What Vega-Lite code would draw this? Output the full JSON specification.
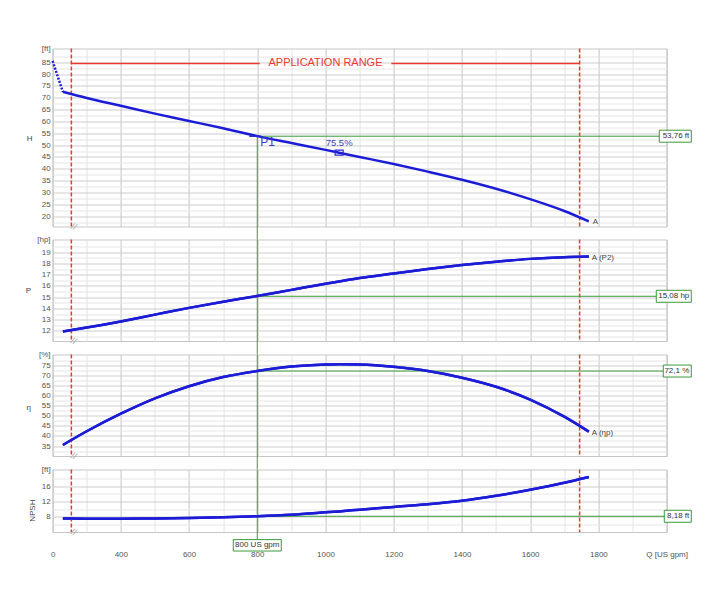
{
"$schema":"https://vega.github.io/schema/vega-lite/v6.json",
"background":"white",
"padding":{"left":24.6,"top":43.5,"right":5,"bottom":5},
"bounds":"flush",
"spacing":13,
"config":{
 "view":{"stroke":"#c6c6c6","strokeWidth":1},
 "axis":{"labelFont":"Liberation Sans","labelFontSize":8,"labelColor":"#555555","titleFont":"Liberation Sans","titleFontSize":8,"titleFontWeight":"normal","titleColor":"#444444","ticks":false,"domain":false,"labelOverlap":false,"tickCount":200},
 "text":{"font":"Liberation Sans"}
},
"datasets":{
 "pump":[
  {"q":230,"h":72.5,"p":11.95,"e":35.5,"n":7.6},
  {"q":300,"h":69.9,"p":12.3,"e":42.3,"n":7.55},
  {"q":400,"h":66.6,"p":12.85,"e":51.0,"n":7.55},
  {"q":500,"h":63.3,"p":13.45,"e":58.6,"n":7.6},
  {"q":600,"h":60.2,"p":14.05,"e":64.6,"n":7.7},
  {"q":700,"h":57.1,"p":14.6,"e":69.1,"n":7.9},
  {"q":800,"h":53.8,"p":15.1,"e":72.1,"n":8.2},
  {"q":900,"h":50.9,"p":15.65,"e":74.3,"n":8.6},
  {"q":1000,"h":48.0,"p":16.2,"e":75.3,"n":9.2},
  {"q":1040,"h":46.8,"p":16.4,"e":75.5,"n":9.45},
  {"q":1100,"h":45.0,"p":16.7,"e":75.35,"n":9.9},
  {"q":1200,"h":42.0,"p":17.1,"e":74.2,"n":10.6},
  {"q":1300,"h":38.8,"p":17.5,"e":72.1,"n":11.3},
  {"q":1400,"h":35.4,"p":17.85,"e":68.8,"n":12.2},
  {"q":1500,"h":31.6,"p":18.15,"e":64.3,"n":13.5},
  {"q":1600,"h":27.2,"p":18.4,"e":58.0,"n":15.1},
  {"q":1700,"h":22.2,"p":18.55,"e":49.5,"n":16.9},
  {"q":1772,"h":17.8,"p":18.6,"e":42.1,"n":18.4}
 ],
 "shutoff":[{"q":0,"h":85.5},{"q":230,"h":72.5}],
 "limits":[{"q":255},{"q":1745}],
 "range":[{"q1":255,"q2":807},{"q1":1193,"q2":1745}],
 "rangelabel":[{"q":1000,"h":84.45,"t":"APPLICATION RANGE"}],
 "duty":[{"q":800,"h":53.76,"p":15.08,"e":72.1,"n":8.18,"hl":"53,76 ft","pl":"15,08 hp","el":"72,1 %","nl":"8,18 ft","ql":"800 US gpm","name":"P1"}],
 "bep":[{"q":1040,"h":46.8,"t":"75.5%"}],
 "curveend":[{"q":1772,"h":17.8,"p":18.6,"e":42.1,"ht":"A","pt":"A (P2)","et":"A (ηp)"}],
 "brk":[{"q":262,"t":"//"}]
},
"vconcat":[
 {"width":614,"height":178,"layer":[
  {"data":{"name":"pump"},"mark":{"type":"line","color":"#1c1cd6","strokeWidth":2.5,"interpolate":"monotone","opacity":0},
   "encoding":{"x":{"field":"q","type":"quantitative","scale":{"domain":[0,230,2000],"range":[0,10.24,614],"nice":false,"zero":false},
     "axis":{"values":[0,300,400,500,600,700,800,900,1000,1100,1200,1300,1400,1500,1600,1700,1800,1900,2000],"tickCount":200,"labels":false,"title":null,"grid":true,"gridColor":{"condition":{"test":"datum.value % 200 == 0","value":"#c4c4c4"},"value":"#e4e4e4"}}},
   "y":{"field":"h","type":"quantitative","scale":{"domain":[15.65,90.78],"nice":false,"zero":false},
     "axis":{"values":[17.5,20,22.5,25,27.5,30,32.5,35,37.5,40,42.5,45,47.5,50,52.5,55,57.5,60,62.5,65,67.5,70,72.5,75,77.5,80,82.5,85,87.5,90.78],"tickCount":200,
      "title":"H","titleAngle":0,"titleX":-23.5,"titleY":90,"titleAlign":"center","titleBaseline":"middle",
      "labelExpr":"datum.value > 90 ? '[ft]' : (datum.value % 5 == 0 ? format(datum.value, 'd') : '')","labelPadding":2.5,
      "grid":true,"gridColor":{"condition":{"test":"datum.value % 5 == 0","value":"#cdcdcd"},"value":"#e6e6e6"},"gridOpacity":{"condition":{"test":"datum.value > 90","value":0},"value":1}}}}},
  {"data":{"name":"range"},"mark":{"type":"rule","color":"#e8382f","strokeWidth":1.5},
   "encoding":{"x":{"field":"q1","type":"quantitative","scale":{"domain":[0,230,2000],"range":[0,10.24,614],"nice":false,"zero":false}},"x2":{"field":"q2"},
   "y":{"datum":84.45,"type":"quantitative","scale":{"domain":[15.65,90.78],"nice":false,"zero":false}}}},
  {"data":{"name":"rangelabel"},"mark":{"type":"text","color":"#e8382f","fontSize":11,"align":"center","baseline":"middle"},
   "encoding":{"x":{"field":"q","type":"quantitative","scale":{"domain":[0,230,2000],"range":[0,10.24,614],"nice":false,"zero":false}},
   "y":{"field":"h","type":"quantitative","scale":{"domain":[15.65,90.78],"nice":false,"zero":false}},"text":{"field":"t"}}},
  {"data":{"name":"limits"},"mark":{"type":"rule","color":"#e8382f","strokeWidth":1.5,"strokeDash":[4,2]},
   "encoding":{"x":{"field":"q","type":"quantitative","scale":{"domain":[0,230,2000],"range":[0,10.24,614],"nice":false,"zero":false}}}},
  {"data":{"name":"duty"},"mark":{"type":"rule","color":"#3a9a3a","strokeWidth":1},
   "encoding":{"x":{"field":"q","type":"quantitative","scale":{"domain":[0,230,2000],"range":[0,10.24,614],"nice":false,"zero":false}},
   "y":{"field":"h","type":"quantitative","scale":{"domain":[15.65,90.78],"nice":false,"zero":false}},"y2":{"datum":10.16}}},
  {"data":{"name":"duty"},"mark":{"type":"rule","color":"#3a9a3a","strokeWidth":1},
   "encoding":{"x":{"field":"q","type":"quantitative","scale":{"domain":[0,230,2000],"range":[0,10.24,614],"nice":false,"zero":false}},"x2":{"datum":2060},
   "y":{"field":"h","type":"quantitative","scale":{"domain":[15.65,90.78],"nice":false,"zero":false}}}},
  {"data":{"name":"shutoff"},"mark":{"type":"line","color":"#1c1cd6","strokeWidth":2.5,"strokeDash":[2,1.5]},
   "encoding":{"x":{"field":"q","type":"quantitative","scale":{"domain":[0,230,2000],"range":[0,10.24,614],"nice":false,"zero":false}},
   "y":{"field":"h","type":"quantitative","scale":{"domain":[15.65,90.78],"nice":false,"zero":false}}}},
  {"data":{"name":"pump"},"mark":{"type":"line","color":"#1c1cd6","strokeWidth":2.5,"interpolate":"monotone"},
   "encoding":{"x":{"field":"q","type":"quantitative","scale":{"domain":[0,230,2000],"range":[0,10.24,614],"nice":false,"zero":false}},
   "y":{"field":"h","type":"quantitative","scale":{"domain":[15.65,90.78],"nice":false,"zero":false}}}},
  {"data":{"name":"duty"},"mark":{"type":"point","shape":"M-8,0H4","size":4,"filled":false,"color":"#2a2ad0","strokeWidth":1.5,"opacity":1},
   "encoding":{"x":{"field":"q","type":"quantitative","scale":{"domain":[0,230,2000],"range":[0,10.24,614],"nice":false,"zero":false}},
   "y":{"field":"h","type":"quantitative","scale":{"domain":[15.65,90.78],"nice":false,"zero":false}}}},
  {"data":{"name":"duty"},"mark":{"type":"text","color":"#3838c8","fontSize":12,"align":"left","baseline":"top","dx":3,"dy":1},
   "encoding":{"x":{"field":"q","type":"quantitative","scale":{"domain":[0,230,2000],"range":[0,10.24,614],"nice":false,"zero":false}},
   "y":{"field":"h","type":"quantitative","scale":{"domain":[15.65,90.78],"nice":false,"zero":false}},"text":{"field":"name"}}},
  {"data":{"name":"bep"},"mark":{"type":"point","shape":"M-4,-2.5H4V2.5H-4Z","size":4,"filled":false,"color":"#2a2ad0","strokeWidth":1.2,"opacity":1},
   "encoding":{"x":{"field":"q","type":"quantitative","scale":{"domain":[0,230,2000],"range":[0,10.24,614],"nice":false,"zero":false}},
   "y":{"field":"h","type":"quantitative","scale":{"domain":[15.65,90.78],"nice":false,"zero":false}}}},
  {"data":{"name":"bep"},"mark":{"type":"text","color":"#4040b8","fontSize":9.5,"align":"center","baseline":"middle","dy":-10},
   "encoding":{"x":{"field":"q","type":"quantitative","scale":{"domain":[0,230,2000],"range":[0,10.24,614],"nice":false,"zero":false}},
   "y":{"field":"h","type":"quantitative","scale":{"domain":[15.65,90.78],"nice":false,"zero":false}},"text":{"field":"t"}}},
  {"data":{"name":"duty"},"mark":{"type":"point","shape":"M-32,-6H0V6H-32Z","size":4,"fill":"white","stroke":"#3a9a3a","strokeWidth":1,"opacity":1},
   "encoding":{"x":{"datum":2072.4,"type":"quantitative","scale":{"domain":[0,230,2000],"range":[0,10.24,614],"nice":false,"zero":false}},
   "y":{"field":"h","type":"quantitative","scale":{"domain":[15.65,90.78],"nice":false,"zero":false}}}},
  {"data":{"name":"duty"},"mark":{"type":"text","color":"#333333","fontSize":8,"align":"right","baseline":"middle","dx":-2},
   "encoding":{"x":{"datum":2072.4,"type":"quantitative","scale":{"domain":[0,230,2000],"range":[0,10.24,614],"nice":false,"zero":false}},
   "y":{"field":"h","type":"quantitative","scale":{"domain":[15.65,90.78],"nice":false,"zero":false}},"text":{"field":"hl"}}},
  {"data":{"name":"curveend"},"mark":{"type":"text","color":"#444444","fontSize":8,"align":"left","baseline":"middle","dx":4,"dy":1},
   "encoding":{"x":{"field":"q","type":"quantitative","scale":{"domain":[0,230,2000],"range":[0,10.24,614],"nice":false,"zero":false}},
   "y":{"field":"h","type":"quantitative","scale":{"domain":[15.65,90.78],"nice":false,"zero":false}},"text":{"field":"ht"}}},
  {"data":{"name":"brk"},"mark":{"type":"text","color":"#b0b0b0","fontSize":9,"align":"center","baseline":"middle","angle":25},
   "encoding":{"x":{"field":"q","type":"quantitative","scale":{"domain":[0,230,2000],"range":[0,10.24,614],"nice":false,"zero":false}},
   "y":{"datum":15.65,"type":"quantitative","scale":{"domain":[15.65,90.78],"nice":false,"zero":false}},"text":{"field":"t"}}}
 ]},
 {"width":614,"height":101.5,"layer":[
  {"data":{"name":"pump"},"mark":{"type":"line","color":"#1c1cd6","strokeWidth":2.5,"interpolate":"monotone"},
   "encoding":{"x":{"field":"q","type":"quantitative","scale":{"domain":[0,230,2000],"range":[0,10.24,614],"nice":false,"zero":false},
     "axis":{"values":[0,300,400,500,600,700,800,900,1000,1100,1200,1300,1400,1500,1600,1700,1800,1900,2000],"tickCount":200,"labels":false,"title":null,"grid":true,"gridColor":{"condition":{"test":"datum.value % 200 == 0","value":"#c4c4c4"},"value":"#e4e4e4"}}},
   "y":{"field":"p","type":"quantitative","scale":{"domain":[11.11,20.12],"nice":false,"zero":false},
     "axis":{"values":[11.5,12,12.5,13,13.5,14,14.5,15,15.5,16,16.5,17,17.5,18,18.5,19,19.5,20.12],"tickCount":200,
      "title":"P","titleAngle":0,"titleX":-24.7,"titleY":51.5,"titleAlign":"center","titleBaseline":"middle",
      "labelExpr":"datum.value > 20 ? '[hp]' : (datum.value % 1 == 0 ? format(datum.value, 'd') : '')","labelPadding":2.5,
      "grid":true,"gridColor":{"condition":{"test":"datum.value % 1 == 0","value":"#cdcdcd"},"value":"#e6e6e6"},"gridOpacity":{"condition":{"test":"datum.value > 20","value":0},"value":1}}}}},
  {"data":{"name":"limits"},"mark":{"type":"rule","color":"#e8382f","strokeWidth":1.5,"strokeDash":[4,2]},
   "encoding":{"x":{"field":"q","type":"quantitative","scale":{"domain":[0,230,2000],"range":[0,10.24,614],"nice":false,"zero":false}}}},
  {"data":{"name":"duty"},"mark":{"type":"rule","color":"#3a9a3a","strokeWidth":1},
   "encoding":{"x":{"field":"q","type":"quantitative","scale":{"domain":[0,230,2000],"range":[0,10.24,614],"nice":false,"zero":false}},
   "y":{"datum":20.12,"type":"quantitative","scale":{"domain":[11.11,20.12],"nice":false,"zero":false}},"y2":{"datum":9.96}}},
  {"data":{"name":"duty"},"mark":{"type":"rule","color":"#3a9a3a","strokeWidth":1},
   "encoding":{"x":{"field":"q","type":"quantitative","scale":{"domain":[0,230,2000],"range":[0,10.24,614],"nice":false,"zero":false}},"x2":{"datum":2060},
   "y":{"field":"p","type":"quantitative","scale":{"domain":[11.11,20.12],"nice":false,"zero":false}}}},
  {"data":{"name":"pump"},"mark":{"type":"line","color":"#1c1cd6","strokeWidth":2.5,"interpolate":"monotone"},
   "encoding":{"x":{"field":"q","type":"quantitative","scale":{"domain":[0,230,2000],"range":[0,10.24,614],"nice":false,"zero":false}},
   "y":{"field":"p","type":"quantitative","scale":{"domain":[11.11,20.12],"nice":false,"zero":false}}}},
  {"data":{"name":"duty"},"mark":{"type":"point","shape":"M-35,-6H0V6H-35Z","size":4,"fill":"white","stroke":"#3a9a3a","strokeWidth":1,"opacity":1},
   "encoding":{"x":{"datum":2072.4,"type":"quantitative","scale":{"domain":[0,230,2000],"range":[0,10.24,614],"nice":false,"zero":false}},
   "y":{"field":"p","type":"quantitative","scale":{"domain":[11.11,20.12],"nice":false,"zero":false}}}},
  {"data":{"name":"duty"},"mark":{"type":"text","color":"#333333","fontSize":8,"align":"right","baseline":"middle","dx":-2},
   "encoding":{"x":{"datum":2072.4,"type":"quantitative","scale":{"domain":[0,230,2000],"range":[0,10.24,614],"nice":false,"zero":false}},
   "y":{"field":"p","type":"quantitative","scale":{"domain":[11.11,20.12],"nice":false,"zero":false}},"text":{"field":"pl"}}},
  {"data":{"name":"curveend"},"mark":{"type":"text","color":"#444444","fontSize":8,"align":"left","baseline":"middle","dx":3,"dy":1},
   "encoding":{"x":{"field":"q","type":"quantitative","scale":{"domain":[0,230,2000],"range":[0,10.24,614],"nice":false,"zero":false}},
   "y":{"field":"p","type":"quantitative","scale":{"domain":[11.11,20.12],"nice":false,"zero":false}},"text":{"field":"pt"}}},
  {"data":{"name":"brk"},"mark":{"type":"text","color":"#b0b0b0","fontSize":9,"align":"center","baseline":"middle","angle":25},
   "encoding":{"x":{"field":"q","type":"quantitative","scale":{"domain":[0,230,2000],"range":[0,10.24,614],"nice":false,"zero":false}},
   "y":{"datum":11.11,"type":"quantitative","scale":{"domain":[11.11,20.12],"nice":false,"zero":false}},"text":{"field":"t"}}}
 ]},
 {"width":614,"height":101.5,"layer":[
  {"data":{"name":"pump"},"mark":{"type":"line","color":"#1c1cd6","strokeWidth":2.5,"interpolate":"monotone"},
   "encoding":{"x":{"field":"q","type":"quantitative","scale":{"domain":[0,230,2000],"range":[0,10.24,614],"nice":false,"zero":false},
     "axis":{"values":[0,300,400,500,600,700,800,900,1000,1100,1200,1300,1400,1500,1600,1700,1800,1900,2000],"tickCount":200,"labels":false,"title":null,"grid":true,"gridColor":{"condition":{"test":"datum.value % 200 == 0","value":"#c4c4c4"},"value":"#e4e4e4"}}},
   "y":{"field":"e","type":"quantitative","scale":{"domain":[30.06,80.28],"nice":false,"zero":false},
     "axis":{"values":[32.5,35,37.5,40,42.5,45,47.5,50,52.5,55,57.5,60,62.5,65,67.5,70,72.5,75,77.5,80.28],"tickCount":200,
      "title":"η","titleAngle":0,"titleX":-24.5,"titleY":53,"titleAlign":"center","titleBaseline":"middle",
      "labelExpr":"datum.value > 80 ? '[%]' : (datum.value % 5 == 0 ? format(datum.value, 'd') : '')","labelPadding":2.5,
      "grid":true,"gridColor":{"condition":{"test":"datum.value % 5 == 0","value":"#cdcdcd"},"value":"#e6e6e6"},"gridOpacity":{"condition":{"test":"datum.value > 80","value":0},"value":1}}}}},
  {"data":{"name":"limits"},"mark":{"type":"rule","color":"#e8382f","strokeWidth":1.5,"strokeDash":[4,2]},
   "encoding":{"x":{"field":"q","type":"quantitative","scale":{"domain":[0,230,2000],"range":[0,10.24,614],"nice":false,"zero":false}}}},
  {"data":{"name":"duty"},"mark":{"type":"rule","color":"#3a9a3a","strokeWidth":1},
   "encoding":{"x":{"field":"q","type":"quantitative","scale":{"domain":[0,230,2000],"range":[0,10.24,614],"nice":false,"zero":false}},
   "y":{"datum":80.28,"type":"quantitative","scale":{"domain":[30.06,80.28],"nice":false,"zero":false}},"y2":{"datum":23.64}}},
  {"data":{"name":"duty"},"mark":{"type":"rule","color":"#3a9a3a","strokeWidth":1},
   "encoding":{"x":{"field":"q","type":"quantitative","scale":{"domain":[0,230,2000],"range":[0,10.24,614],"nice":false,"zero":false}},"x2":{"datum":2060},
   "y":{"field":"e","type":"quantitative","scale":{"domain":[30.06,80.28],"nice":false,"zero":false}}}},
  {"data":{"name":"pump"},"mark":{"type":"line","color":"#1c1cd6","strokeWidth":2.5,"interpolate":"monotone"},
   "encoding":{"x":{"field":"q","type":"quantitative","scale":{"domain":[0,230,2000],"range":[0,10.24,614],"nice":false,"zero":false}},
   "y":{"field":"e","type":"quantitative","scale":{"domain":[30.06,80.28],"nice":false,"zero":false}}}},
  {"data":{"name":"duty"},"mark":{"type":"point","shape":"M-28,-6H0V6H-28Z","size":4,"fill":"white","stroke":"#3a9a3a","strokeWidth":1,"opacity":1},
   "encoding":{"x":{"datum":2072.4,"type":"quantitative","scale":{"domain":[0,230,2000],"range":[0,10.24,614],"nice":false,"zero":false}},
   "y":{"field":"e","type":"quantitative","scale":{"domain":[30.06,80.28],"nice":false,"zero":false}}}},
  {"data":{"name":"duty"},"mark":{"type":"text","color":"#333333","fontSize":8,"align":"right","baseline":"middle","dx":-2},
   "encoding":{"x":{"datum":2072.4,"type":"quantitative","scale":{"domain":[0,230,2000],"range":[0,10.24,614],"nice":false,"zero":false}},
   "y":{"field":"e","type":"quantitative","scale":{"domain":[30.06,80.28],"nice":false,"zero":false}},"text":{"field":"el"}}},
  {"data":{"name":"curveend"},"mark":{"type":"text","color":"#444444","fontSize":8,"align":"left","baseline":"middle","dx":3,"dy":1},
   "encoding":{"x":{"field":"q","type":"quantitative","scale":{"domain":[0,230,2000],"range":[0,10.24,614],"nice":false,"zero":false}},
   "y":{"field":"e","type":"quantitative","scale":{"domain":[30.06,80.28],"nice":false,"zero":false}},"text":{"field":"et"}}},
  {"data":{"name":"brk"},"mark":{"type":"text","color":"#b0b0b0","fontSize":9,"align":"center","baseline":"middle","angle":25},
   "encoding":{"x":{"field":"q","type":"quantitative","scale":{"domain":[0,230,2000],"range":[0,10.24,614],"nice":false,"zero":false}},
   "y":{"datum":30.06,"type":"quantitative","scale":{"domain":[30.06,80.28],"nice":false,"zero":false}},"text":{"field":"t"}}}
 ]},
 {"width":614,"height":62.5,"layer":[
  {"data":{"name":"pump"},"mark":{"type":"line","color":"#1c1cd6","strokeWidth":2.5,"interpolate":"monotone"},
   "encoding":{"x":{"field":"q","type":"quantitative","scale":{"domain":[0,230,2000],"range":[0,10.24,614],"nice":false,"zero":false},
     "axis":{"values":[0,300,400,500,600,700,800,900,1000,1100,1200,1300,1400,1500,1600,1700,1800,1900,2000],"tickCount":200,"labels":true,"labelFlush":false,"labelPadding":19,
      "labelExpr":"datum.value == 2000 ? 'Q [US gpm]' : (datum.value % 200 == 0 ? format(datum.value, 'd') : '')","title":null,"grid":true,"gridColor":{"condition":{"test":"datum.value % 200 == 0","value":"#c4c4c4"},"value":"#e4e4e4"}}},
   "y":{"field":"n","type":"quantitative","scale":{"domain":[4.08,20.36],"nice":false,"zero":false},
     "axis":{"values":[6,8,10,12,14,16,18,20.36],"tickCount":200,
      "title":"NPSH","titleAngle":-90,"titleX":-20,"titleY":40.7,"titleAlign":"center","titleBaseline":"middle",
      "labelExpr":"datum.value > 20 ? '[ft]' : (datum.value % 4 == 0 ? format(datum.value, 'd') : '')","labelPadding":2.5,
      "grid":true,"gridColor":{"condition":{"test":"datum.value % 4 == 0","value":"#cdcdcd"},"value":"#e6e6e6"},"gridOpacity":{"condition":{"test":"datum.value > 20","value":0},"value":1}}}}},
  {"data":{"name":"limits"},"mark":{"type":"rule","color":"#e8382f","strokeWidth":1.5,"strokeDash":[4,2]},
   "encoding":{"x":{"field":"q","type":"quantitative","scale":{"domain":[0,230,2000],"range":[0,10.24,614],"nice":false,"zero":false}}}},
  {"data":{"name":"duty"},"mark":{"type":"rule","color":"#3a9a3a","strokeWidth":1},
   "encoding":{"x":{"field":"q","type":"quantitative","scale":{"domain":[0,230,2000],"range":[0,10.24,614],"nice":false,"zero":false}},
   "y":{"datum":20.36,"type":"quantitative","scale":{"domain":[4.08,20.36],"nice":false,"zero":false}},"y2":{"datum":2.1}}},
  {"data":{"name":"duty"},"mark":{"type":"rule","color":"#3a9a3a","strokeWidth":1},
   "encoding":{"x":{"field":"q","type":"quantitative","scale":{"domain":[0,230,2000],"range":[0,10.24,614],"nice":false,"zero":false}},"x2":{"datum":2060},
   "y":{"field":"n","type":"quantitative","scale":{"domain":[4.08,20.36],"nice":false,"zero":false}}}},
  {"data":{"name":"pump"},"mark":{"type":"line","color":"#1c1cd6","strokeWidth":2.5,"interpolate":"monotone"},
   "encoding":{"x":{"field":"q","type":"quantitative","scale":{"domain":[0,230,2000],"range":[0,10.24,614],"nice":false,"zero":false}},
   "y":{"field":"n","type":"quantitative","scale":{"domain":[4.08,20.36],"nice":false,"zero":false}}}},
  {"data":{"name":"duty"},"mark":{"type":"point","shape":"M-27,-6H0V6H-27Z","size":4,"fill":"white","stroke":"#3a9a3a","strokeWidth":1,"opacity":1},
   "encoding":{"x":{"datum":2072.4,"type":"quantitative","scale":{"domain":[0,230,2000],"range":[0,10.24,614],"nice":false,"zero":false}},
   "y":{"field":"n","type":"quantitative","scale":{"domain":[4.08,20.36],"nice":false,"zero":false}}}},
  {"data":{"name":"duty"},"mark":{"type":"text","color":"#333333","fontSize":8,"align":"right","baseline":"middle","dx":-2},
   "encoding":{"x":{"datum":2072.4,"type":"quantitative","scale":{"domain":[0,230,2000],"range":[0,10.24,614],"nice":false,"zero":false}},
   "y":{"field":"n","type":"quantitative","scale":{"domain":[4.08,20.36],"nice":false,"zero":false}},"text":{"field":"nl"}}},
  {"data":{"name":"duty"},"mark":{"type":"point","shape":"M-24,-5.7H24V5.7H-24Z","size":4,"fill":"white","stroke":"#3a9a3a","strokeWidth":1,"opacity":1},
   "encoding":{"x":{"field":"q","type":"quantitative","scale":{"domain":[0,230,2000],"range":[0,10.24,614],"nice":false,"zero":false}},
   "y":{"datum":0.61,"type":"quantitative","scale":{"domain":[4.08,20.36],"nice":false,"zero":false}}}},
  {"data":{"name":"duty"},"mark":{"type":"text","color":"#333333","fontSize":8,"align":"center","baseline":"middle"},
   "encoding":{"x":{"field":"q","type":"quantitative","scale":{"domain":[0,230,2000],"range":[0,10.24,614],"nice":false,"zero":false}},
   "y":{"datum":0.61,"type":"quantitative","scale":{"domain":[4.08,20.36],"nice":false,"zero":false}},"text":{"field":"ql"}}},
  {"data":{"name":"brk"},"mark":{"type":"text","color":"#b0b0b0","fontSize":9,"align":"center","baseline":"middle","angle":25},
   "encoding":{"x":{"field":"q","type":"quantitative","scale":{"domain":[0,230,2000],"range":[0,10.24,614],"nice":false,"zero":false}},
   "y":{"datum":4.08,"type":"quantitative","scale":{"domain":[4.08,20.36],"nice":false,"zero":false}},"text":{"field":"t"}}}
 ]}
]
}
